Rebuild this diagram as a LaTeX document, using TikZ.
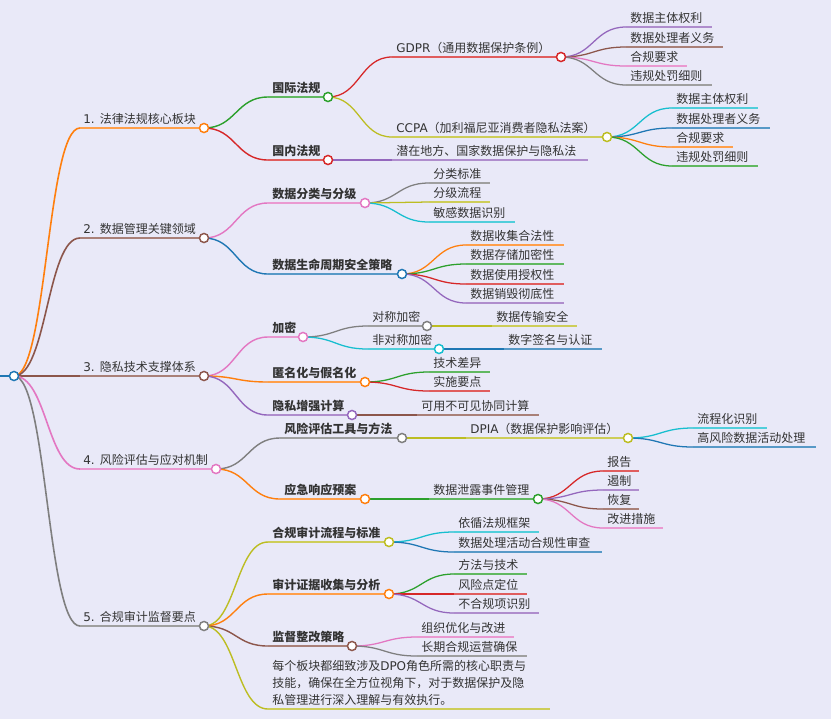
\documentclass[tikz,border=0pt]{standalone}
\usepackage{fontspec}
\setmainfont{Noto Sans CJK SC}
\newfontfamily\lat{DejaVu Sans}
\usetikzlibrary{calc}
\pgfdeclarelayer{back}
\pgfdeclarelayer{bg}
\pgfsetlayers{back,bg,main}
\definecolor{c0}{HTML}{1F77B4}
\definecolor{c1}{HTML}{FF7F0E}
\definecolor{c2}{HTML}{2CA02C}
\definecolor{c3}{HTML}{D62728}
\definecolor{c4}{HTML}{9467BD}
\definecolor{c5}{HTML}{8C564B}
\definecolor{c6}{HTML}{E377C2}
\definecolor{c7}{HTML}{7F7F7F}
\definecolor{c8}{HTML}{BCBD22}
\definecolor{c9}{HTML}{17BECF}
\definecolor{bgcol}{HTML}{E9E9F8}
\definecolor{txt}{HTML}{333333}
\tikzset{
 mmdot/.style={circle,draw=#1,fill=white,line width=1.1pt,minimum size=6.8pt,inner sep=0pt},
 mmlink/.style={draw=#1,line width=\mmlw},
 mmuline/.style={draw=#1!75!white,line width=\mmlw},
 mmlbl/.style={text=txt,inner sep=0pt,anchor=base west,font=\fontsize{9pt}{12.75pt}\selectfont},
}
\def\mmlw{1pt}
\newcommand\mmbody[7]{%
 \coordinate (#1s) at (#4,#5);
 \node[mmlbl] (#1t) at (#6,#5-4.5) {#7};
 \begin{pgfonlayer}{bg}
 \draw[mmlink=#3] let \p1=(#2.center), \p2=(#1s) in (\p1) .. controls ({(\x1+\x2)/2},\y1) and ({(\x1+\x2)/2},\y2) .. (\p2);
 \draw[mmuline=#3] (#1s) -- (#1.center);
 \end{pgfonlayer}}
\newcommand\mmnode[8]{\node[mmdot=#3] (#1) at (#6,#5) {};\mmbody{#1}{#2}{#3}{#4}{#5}{#7}{#8}}
\newcommand\mmleaf[8]{\coordinate (#1) at (#6,#5);\mmbody{#1}{#2}{#3}{#4}{#5}{#7}{#8}}
\begin{document}
\begin{tikzpicture}[x=0.75pt,y=-0.75pt]
\begin{pgfonlayer}{back}
\fill[bgcol] (0,0) rectangle (831,719);
\end{pgfonlayer}
\useasboundingbox (0,0) rectangle (831,719);
% root
\node[mmdot=c0] (R) at (14,376) {};
\coordinate (R0) at (0,376);
\begin{pgfonlayer}{bg}\draw[mmlink=c0,line width=1.2pt] (R0) -- (R.center);\end{pgfonlayer}
% level 1
\def\mmlw{1.2pt}
\mmnode{L1}{R}{c1}{80}{128}{204}{83}{{\lat 1. }法律法规核心板块}
\mmnode{L2}{R}{c5}{80}{238}{204}{83}{{\lat 2. }数据管理关键领域}
\mmnode{L3}{R}{c5}{80}{376}{204}{83}{{\lat 3. }隐私技术支撑体系}
\mmnode{L4}{R}{c6}{80}{469}{216}{83}{{\lat 4. }风险评估与应对机制}
\mmnode{L5}{R}{c7}{80}{626}{204}{83}{{\lat 5. }合规审计监督要点}
% level 2
\def\mmlw{1.05pt}
\mmnode{A1}{L1}{c2}{268}{97}{328}{272}{\textbf{国际法规}}
\mmnode{A2}{L1}{c3}{268}{160}{328}{272}{\textbf{国内法规}}
\mmnode{B1}{L2}{c6}{268}{203}{365}{272}{\textbf{数据分类与分级}}
\mmnode{B2}{L2}{c0}{268}{274}{402}{272}{\textbf{数据生命周期安全策略}}
\mmnode{C1}{L3}{c6}{268}{337}{303}{272}{\textbf{加密}}
\mmnode{C2}{L3}{c1}{268}{382}{365}{272}{\textbf{匿名化与假名化}}
\mmnode{C3}{L3}{c4}{268}{415}{352}{272}{\textbf{隐私增强计算}}
\mmnode{D1}{L4}{c7}{280}{438}{402}{284}{\textbf{风险评估工具与方法}}
\mmnode{D2}{L4}{c1}{280}{499}{365}{284}{\textbf{应急响应预案}}
\mmnode{E1}{L5}{c8}{268}{542}{389}{272}{\textbf{合规审计流程与标准}}
\mmnode{E2}{L5}{c1}{268}{594}{389}{272}{\textbf{审计证据收集与分析}}
\mmnode{E3}{L5}{c5}{268}{646}{352}{272}{\textbf{监督整改策略}}
\mmleaf{E4}{L5}{c8}{268}{709}{550}{272}{\begin{tabular}[b]{@{}l@{}}每个板块都细致涉及{\lat DPO}角色所需的核心职责与\\技能，确保在全方位视角下，对于数据保护及隐\\私管理进行深入理解与有效执行。\end{tabular}}
% level 3
\def\mmlw{0.95pt}
\mmnode{G1}{A1}{c3}{392}{57}{561}{396}{{\lat GDPR}（通用数据保护条例）}
\mmnode{G2}{A1}{c8}{392}{137}{607}{396}{{\lat CCPA}（加利福尼亚消费者隐私法案）}
\mmleaf{G3}{A2}{c4}{392}{160}{588}{396}{潜在地方、国家数据保护与隐私法}
\mmleaf{J1}{B1}{c7}{429}{183}{490}{433}{分类标准}
\mmleaf{J2}{B1}{c8}{429}{202}{490}{433}{分级流程}
\mmleaf{J3}{B1}{c9}{429}{222}{515}{433}{敏感数据识别}
\mmleaf{K1}{B2}{c1}{466}{245}{564}{470}{数据收集合法性}
\mmleaf{K2}{B2}{c2}{466}{264}{564}{470}{数据存储加密性}
\mmleaf{K3}{B2}{c3}{466}{284}{564}{470}{数据使用授权性}
\mmleaf{K4}{B2}{c4}{466}{303}{564}{470}{数据销毁彻底性}
\mmnode{M1}{C1}{c7}{368}{326}{427}{372}{对称加密}
\mmnode{M2}{C1}{c9}{368}{349}{439}{372}{非对称加密}
\mmleaf{O1}{C2}{c2}{429}{372}{490}{433}{技术差异}
\mmleaf{O2}{C2}{c3}{429}{391}{490}{433}{实施要点}
\mmleaf{P1}{C3}{c5}{417}{415}{539}{421}{可用不可见协同计算}
\mmnode{Q1}{D1}{c8}{466}{438}{628}{470}{{\lat DPIA}（数据保护影响评估）}
\mmnode{S1}{D2}{c2}{429}{499}{538}{433}{数据泄露事件管理}
\mmleaf{U1}{E1}{c9}{454}{532}{539}{458}{依循法规框架}
\mmleaf{U2}{E1}{c0}{454}{552}{602}{458}{数据处理活动合规性审查}
\mmleaf{V1}{E2}{c2}{454}{574}{527}{458}{方法与技术}
\mmleaf{V2}{E2}{c3}{454}{594}{527}{458}{风险点定位}
\mmleaf{V3}{E2}{c4}{454}{613}{539}{458}{不合规项识别}
\mmleaf{W1}{E3}{c6}{417}{637}{514}{421}{组织优化与改进}
\mmleaf{W2}{E3}{c7}{417}{656}{527}{421}{长期合规运营确保}
% level 4
\mmleaf{H1}{G1}{c4}{626}{27}{712}{630}{数据主体权利}
\mmleaf{H2}{G1}{c5}{626}{47}{723}{630}{数据处理者义务}
\mmleaf{H3}{G1}{c6}{626}{66}{687}{630}{合规要求}
\mmleaf{H4}{G1}{c7}{626}{85}{712}{630}{违规处罚细则}
\mmleaf{I1}{G2}{c9}{672}{108}{758}{676}{数据主体权利}
\mmleaf{I2}{G2}{c0}{672}{128}{770}{676}{数据处理者义务}
\mmleaf{I3}{G2}{c1}{672}{147}{733}{676}{合规要求}
\mmleaf{I4}{G2}{c2}{672}{166}{758}{676}{违规处罚细则}
\mmleaf{N1}{M1}{c8}{492}{326}{577}{496}{数据传输安全}
\mmleaf{N2}{M2}{c0}{504}{349}{602}{508}{数字签名与认证}
\mmleaf{R1}{Q1}{c9}{693}{428}{767}{697}{流程化识别}
\mmleaf{R2}{Q1}{c0}{693}{447}{816}{697}{高风险数据活动处理}
\mmleaf{T1}{S1}{c3}{603}{471}{639}{607}{报告}
\mmleaf{T2}{S1}{c4}{603}{490}{639}{607}{遏制}
\mmleaf{T3}{S1}{c5}{603}{509}{639}{607}{恢复}
\mmleaf{T4}{S1}{c6}{603}{528}{663}{607}{改进措施}
\end{tikzpicture}
\end{document}
